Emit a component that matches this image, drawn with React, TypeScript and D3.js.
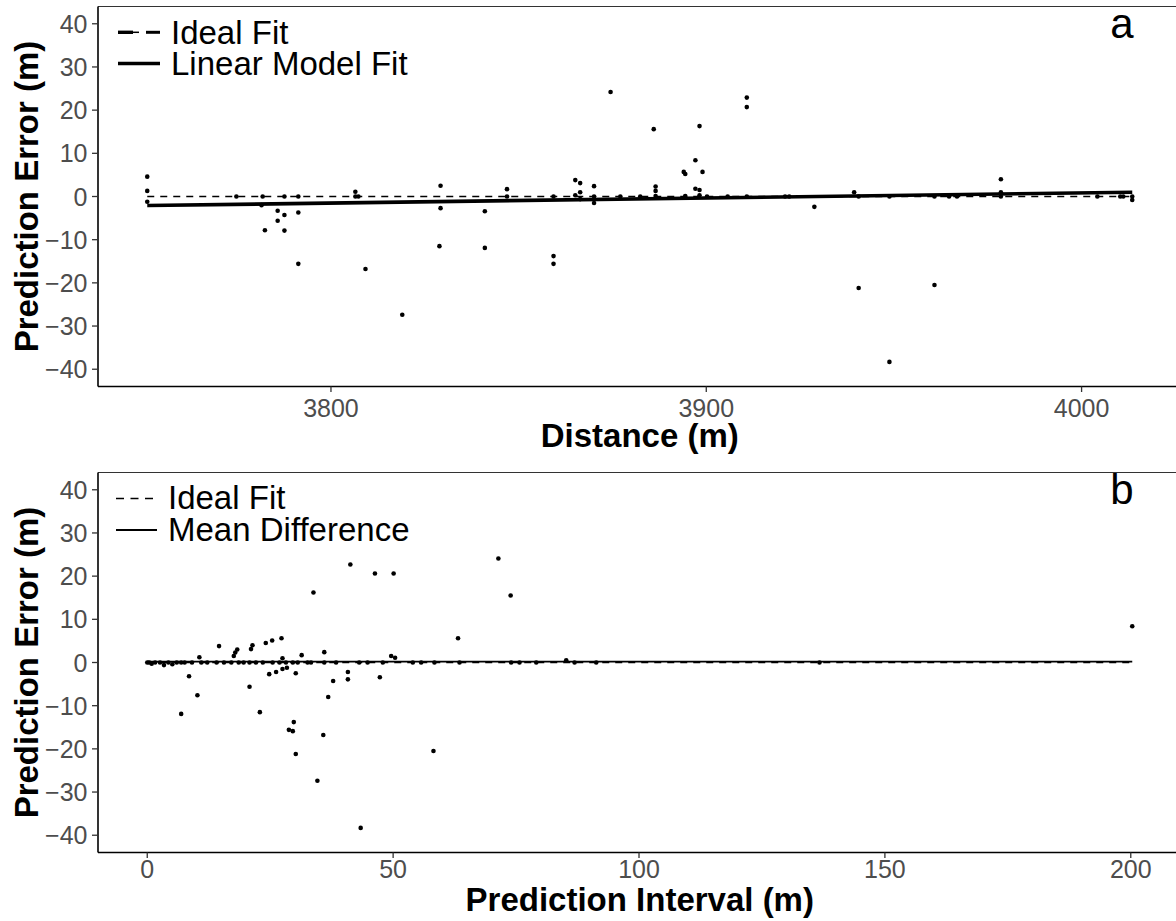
import React from "react";
import * as d3 from "d3";

// ---------- DATA ----------
// Panel a: Distance (m) vs Prediction Error (m)
const distA = [
  3751.05, 3751.05, 3751.05, 3774.8, 3781.8, 3781.5, 3785.8, 3787.6, 3785.8, 3782.4,
  3787.6, 3787.6, 3791.3, 3791.3, 3791.3, 3806.5, 3806.5, 3807.3, 3809.2, 3819.0,
  3829.2, 3829.2, 3828.9, 3841.0, 3841.0, 3846.9, 3846.9, 3859.3, 3859.3, 3859.3,
  3865.1, 3866.4, 3865.1, 3866.4, 3866.4, 3870.1, 3870.1, 3870.1, 3874.5, 3877.1,
  3882.4, 3886.0, 3886.5, 3886.5, 3886.5, 3894.0, 3894.4, 3897.1, 3898.2, 3899.0,
  3897.1, 3898.2, 3898.2, 3894.4, 3900.2, 3905.7, 3910.8, 3910.8, 3910.8, 3921.0,
  3922.1, 3928.8, 3939.4, 3940.6, 3948.8, 3940.6, 3948.8, 3960.8, 3960.8, 3964.7,
  3966.8, 3978.5, 3978.5, 3978.5, 4004.2, 4010.3, 4011.1, 4013.5, 4013.5
];
const errA = [
  4.6, 1.3, -1.2, 0, 0, -2.0, -3.3, -4.3, -5.6, -7.8,
  -7.9, 0, 0, -3.7, -15.6, 1.1, 0, 0, -16.8, -27.4,
  2.5, -2.7, -11.5, -3.4, -11.9, 1.7, 0, 0, -13.8, -15.6,
  3.8, 3.1, 0.3, 1.0, -0.6, 2.4, 0, -1.5, 24.2, 0,
  0, 15.6, 2.3, 1.3, 0.1, 5.7, 5.2, 8.4, 16.3, 5.7,
  1.8, 1.5, 0.3, 0.1, 0, 0, 0, 22.9, 20.7, 0,
  0, -2.4, 1.0, 0, 0, -21.2, -38.3, 0, -20.5, 0,
  0, 4.0, 1.0, 0, 0, 0, 0, -0.8, 0
];

// Panel b: Prediction Interval (m) vs Prediction Error (m)
const intervalB = [
  0, 0.4, 0.9, 1.6, 2.6, 3.4, 4.3, 5.1, 6.0, 6.9, 7.6, 9.1, 11.0, 12.2, 14.1, 15.6, 17.1, 18.6, 19.6,
  8.5, 10.6, 14.6, 6.9, 10.2, 17.6, 17.9, 18.3, 20.8,
  21.4, 21.1, 24.1, 25.4, 27.3, 27.5, 31.4, 36.0, 49.6, 50.4,
  24.8, 26.2, 27.5, 28.4, 30.2, 40.8, 40.8, 37.8, 47.3, 36.8, 22.9, 29.8, 28.8, 29.6,
  35.8, 30.2, 58.2, 34.6, 43.4,
  41.3, 46.3, 50.1, 33.8, 71.4, 73.9, 63.2, 85.2, 200.3,
  20.8, 22.1, 23.5, 25.5, 26.9, 28.2, 29.6, 30.6, 32.6, 33.3, 36.0, 38.4, 43.1, 44.8,
  47.9, 54.0, 55.7, 58.4, 63.5, 74.0, 75.7, 79.1, 86.9, 91.3, 136.7
];
const errB = [
  0, 0, -0.3, 0, 0, -0.6, 0, -0.4, 0, 0, 0, 0, 0, 0, 0, 0, 0, 0, 0,
  -3.2, 1.2, 3.8, -11.9, -7.6, 1.5, 2.3, 3.0, -5.6,
  4.0, 3.1, 4.5, 5.1, 5.6, 1.0, 1.7, 2.4, 1.5, 1.1,
  -2.7, -2.2, -1.5, -1.2, -2.5, -2.2, -3.9, -4.3, -3.4, -8.0, -11.5, -13.8, -15.6, -15.9,
  -16.8, -21.2, -20.5, -27.4, -38.3,
  22.7, 20.6, 20.6, 16.2, 24.1, 15.5, 5.6, 0.5, 8.4,
  0, 0, 0, 0, 0, 0, 0, 0, 0, 0, 0, 0, 0, 0,
  0, 0, 0, 0, 0, 0, 0, 0, 0, 0, 0
];

const yLimits = [-40, 40];
const yTicks = [-40, -30, -20, -10, 0, 10, 20, 30, 40];
const xTicksA = [3800, 3900, 4000];
const xTicksB = [0, 50, 100, 150, 200];
const idealFitA = [0, 0];
const linearFitA = [-2.1, 1.0];
const idealFitB = [0, 0];
const meanDiffB = [0.2, 0.2];
const legendA = ["Ideal Fit", "Linear Model Fit"];
const legendB = ["Ideal Fit", "Mean Difference"];

// ---------- LAYOUT ----------
const W = 1176;
const H = 921;
const FONT = "'Liberation Sans', Arial, Helvetica, sans-serif";
const LEFT = 98;
const RIGHT = 1181.5;

function expand(ext: number[], f = 0.05) {
  const r = ext[1] - ext[0];
  return [ext[0] - r * f, ext[1] + r * f];
}

type PanelProps = {
  top: number;
  bottom: number;
  xs: number[];
  ys: number[];
  xTicks: number[];
  xTitle: string;
  tickBaseOffset: number;
  titleBaseOffset: number;
  label: string;
  children: (x: d3.ScaleLinear<number, number>, y: d3.ScaleLinear<number, number>) => React.ReactNode;
};

function Panel({ top, bottom, xs, ys, xTicks, xTitle, tickBaseOffset, titleBaseOffset, label, children }: PanelProps) {
  const xExt = d3.extent(xs) as [number, number];
  const x = d3.scaleLinear().domain(expand(xExt)).range([LEFT, RIGHT]);
  const y = d3.scaleLinear().domain(expand(yLimits)).range([bottom, top]);
  const fmt = d3.format("d");
  const cy = (top + bottom) / 2;
  return (
    <g>
      {/* panel frame */}
      <line x1={LEFT} x2={RIGHT} y1={top} y2={top} stroke="#333" strokeWidth={1.1} />
      <line x1={RIGHT} x2={RIGHT} y1={top} y2={bottom} stroke="#333" strokeWidth={1.1} />
      {children(x, y)}
      {/* points */}
      {xs.map((v, i) => (
        <circle key={i} cx={x(v)} cy={y(ys[i])} r={2.3} fill="#000" />
      ))}
      {/* y axis */}
      <line x1={LEFT} x2={LEFT} y1={top} y2={bottom} stroke="#000" strokeWidth={1.6} />
      {yTicks.map((t) => (
        <g key={t}>
          <line x1={LEFT - 6} x2={LEFT} y1={y(t)} y2={y(t)} stroke="#333" strokeWidth={1.3} />
          <text x={LEFT - 10.5} y={y(t)} dy="0.36em" textAnchor="end" fontSize={25} fill="#4D4D4D" fontFamily={FONT}>
            {fmt(t)}
          </text>
        </g>
      ))}
      {/* x axis */}
      <line x1={LEFT} x2={RIGHT} y1={bottom} y2={bottom} stroke="#000" strokeWidth={1.6} />
      {xTicks.map((t) => (
        <g key={t}>
          <line x1={x(t)} x2={x(t)} y1={bottom} y2={bottom + 5.5} stroke="#333" strokeWidth={1.3} />
          <text x={x(t)} y={bottom + tickBaseOffset} textAnchor="middle" fontSize={25} fill="#4D4D4D" fontFamily={FONT}>
            {t}
          </text>
        </g>
      ))}
      <text x={(LEFT + RIGHT) / 2} y={bottom + titleBaseOffset} textAnchor="middle" fontSize={33} fontWeight="bold" fill="#000" fontFamily={FONT}>
        {xTitle}
      </text>
      <text transform={`translate(38,${cy}) rotate(-90)`} textAnchor="middle" fontSize={33} fontWeight="bold" fill="#000" fontFamily={FONT}>
        Prediction Error (m)
      </text>
      <text x={1122} y={top + 31.5} textAnchor="middle" fontSize={42} fill="#000" fontFamily={FONT}>
        {label}
      </text>
    </g>
  );
}

export default function App() {
  const topA = 6.5, botA = 386.5;
  const topB = 472.5, botB = 852.5;
  return (
    <svg width={W} height={H} style={{ position: "absolute", left: 0, top: 0, background: "#fff" }}>
      <rect x={0} y={0} width={W} height={H} fill="#fff" />
      <Panel
        top={topA}
        bottom={botA}
        xs={distA}
        ys={errA}
        xTicks={xTicksA}
        xTitle="Distance (m)"
        tickBaseOffset={30}
        titleBaseOffset={60.5}
        label="a"
      >
        {(x, y) => {
          const [x0, x1] = d3.extent(distA) as [number, number];
          const line = d3.line<[number, number]>().x((d) => x(d[0])).y((d) => y(d[1]));
          return (
            <g>
              <path d={line([[x0, idealFitA[0]], [x1, idealFitA[1]]]) || ""} stroke="#000" strokeWidth={1.6} strokeDasharray="7,6" fill="none" />
              <path d={line([[x0, linearFitA[0]], [x1, linearFitA[1]]]) || ""} stroke="#000" strokeWidth={3.6} fill="none" />
              {/* legend */}
              <line x1={118} x2={133} y1={32.3} y2={32.3} stroke="#000" strokeWidth={3.4} />
              <line x1={133} x2={139} y1={32.3} y2={32.3} stroke="#000" strokeWidth={1.5} />
              <line x1={146} x2={160} y1={32.3} y2={32.3} stroke="#000" strokeWidth={3} />
              <line x1={118} x2={160} y1={63.5} y2={63.5} stroke="#000" strokeWidth={3.6} />
              <text x={171} y={43.5} fontSize={33} fill="#000" fontFamily={FONT}>{legendA[0]}</text>
              <text x={171} y={75} fontSize={33} fill="#000" fontFamily={FONT}>{legendA[1]}</text>
            </g>
          );
        }}
      </Panel>
      <Panel
        top={topB}
        bottom={botB}
        xs={intervalB}
        ys={errB}
        xTicks={xTicksB}
        xTitle="Prediction Interval (m)"
        tickBaseOffset={25.5}
        titleBaseOffset={58}
        label="b"
      >
        {(x, y) => {
          const [x0, x1] = d3.extent(intervalB) as [number, number];
          const line = d3.line<[number, number]>().x((d) => x(d[0])).y((d) => y(d[1]));
          return (
            <g>
              <path d={line([[x0, idealFitB[0]], [x1, idealFitB[1]]]) || ""} stroke="#000" strokeWidth={1.5} strokeDasharray="7,6" fill="none" />
              <path d={line([[x0, meanDiffB[0]], [x1, meanDiffB[1]]]) || ""} stroke="#000" strokeWidth={1.8} fill="none" />
              {/* legend */}
              <line x1={116} x2={157} y1={498.5} y2={498.5} stroke="#000" strokeWidth={1.5} strokeDasharray="8,6.5" />
              <line x1={116} x2={157} y1={530} y2={530} stroke="#000" strokeWidth={1.8} />
              <text x={168} y={509} fontSize={33} fill="#000" fontFamily={FONT}>{legendB[0]}</text>
              <text x={168} y={540.5} fontSize={33} fill="#000" fontFamily={FONT}>{legendB[1]}</text>
            </g>
          );
        }}
      </Panel>
    </svg>
  );
}
